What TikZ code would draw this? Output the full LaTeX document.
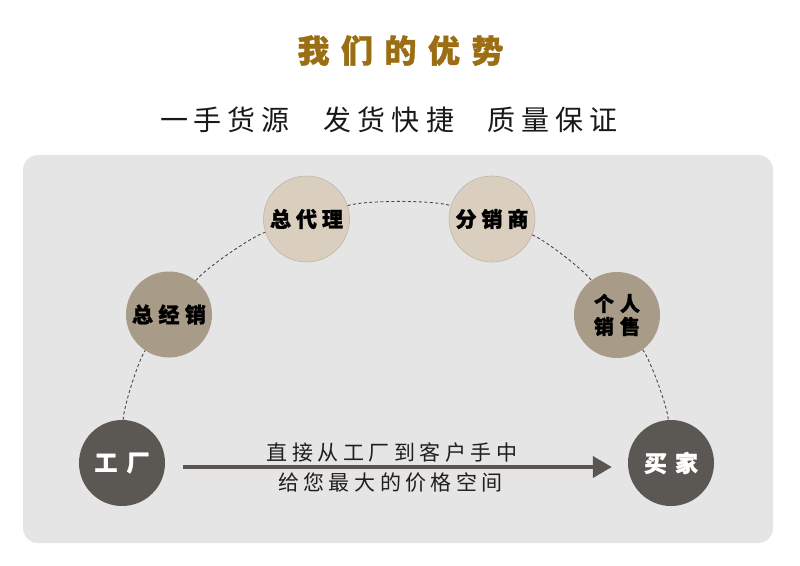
\documentclass[tikz,border=0pt]{standalone}
\usepackage{fontspec}
\newfontfamily\cjk{Noto Sans CJK SC}
\newfontfamily\cjkheavy{Noto Sans CJK SC}[BoldFeatures={FakeBold=1.2}]
\usetikzlibrary{arrows.meta}
\definecolor{panelc}{HTML}{E5E5E5}
\definecolor{darkc}{HTML}{5B5752}
\definecolor{taupe}{HTML}{A89B87}
\definecolor{beige}{HTML}{DACFBE}
\definecolor{goldc}{HTML}{9B6E14}
\definecolor{arrowc}{HTML}{5A5550}
\makeatletter
\newcommand\spreadtxt[2]{\begingroup\def\sp@g{#1}\let\sp@sep\relax\@tfor\sp@c:=#2\do{\sp@sep\sp@c\def\sp@sep{\hspace{\sp@g}}}\endgroup}
\makeatother
\begin{document}
\begin{tikzpicture}[x=1pt,y=1pt,
  circ/.style={circle,minimum size=86pt,inner sep=0pt,align=center,font=\cjkheavy\bfseries\fontsize{21}{24}\selectfont},
  darkcirc/.style={circ,fill=darkc,text=white,font=\cjkheavy\bfseries\fontsize{23}{26}\selectfont},
  midcirc/.style={circ,fill=taupe,text=black},
  lightcirc/.style={circ,fill=beige,draw=beige!88!black,line width=0.6pt,text=black},
  arcline/.style={draw=black!72,line width=0.9pt,dash pattern=on 3pt off 2.5pt,looseness=0.45},
  flow/.style={draw=arrowc,line width=4pt,-{Triangle[length=19pt,width=21pt]}},
  txt/.style={inner sep=0pt}
]
\useasboundingbox (0,0) rectangle (800,-565);
\fill[white] (0,0) rectangle (800,-565);
\fill[panelc,rounded corners=15pt] (23,-155) rectangle (773,-543);

\node[txt,text=goldc,font=\cjkheavy\bfseries\fontsize{32}{36}\selectfont] (title) at (400.5,-50.5) {\spreadtxt{11.5pt}{我们的优势}};
\node[txt,text=black!90,font=\cjk\fontsize{28}{32}\selectfont] (sub) at (389,-119.5)
  {\spreadtxt{6pt}{一手货源}\hspace{34pt}\spreadtxt{6pt}{发货快捷}\hspace{34pt}\spreadtxt{6pt}{质量保证}};

\node[darkcirc] (factory) at (122,-463) {\spreadtxt{9pt}{工厂}};
\node[midcirc] (dist) at (169,-314.5) {\spreadtxt{5.5pt}{总经销}};
\node[lightcirc] (agent) at (306.5,-219) {\spreadtxt{5pt}{总代理}};
\node[lightcirc] (resell) at (492,-219) {\spreadtxt{5pt}{分销商}};
\node[midcirc,font=\cjkheavy\bfseries\fontsize{20}{23}\selectfont] (person) at (617,-315) {\spreadtxt{6pt}{个人}\\\spreadtxt{6pt}{销售}};
\node[darkcirc] (buyer) at (671,-463) {\spreadtxt{8pt}{买家}};

\draw[arcline] (factory) to[bend left=16] (dist);
\draw[arcline] (dist) to[bend left=17] (agent);
\draw[arcline] (agent) to[bend left=18] (resell);
\draw[arcline] (resell) to[bend left=16] (person);
\draw[arcline] (person) to[bend left=16.5] (buyer);

\draw[flow,shorten <=18pt,shorten >=16pt] ([yshift=-4pt]factory.east) -- ([yshift=-4pt]buyer.west);

\node[txt,text=black!88,font=\cjk\fontsize{21}{24}\selectfont] (line1) at (392,-452) {\spreadtxt{4.5pt}{直接从工厂到客户手中}};
\node[txt,text=black!88,font=\cjk\fontsize{21}{24}\selectfont] (line2) at (390.5,-483) {\spreadtxt{4.5pt}{给您最大的价格空间}};
\end{tikzpicture}
\end{document}
